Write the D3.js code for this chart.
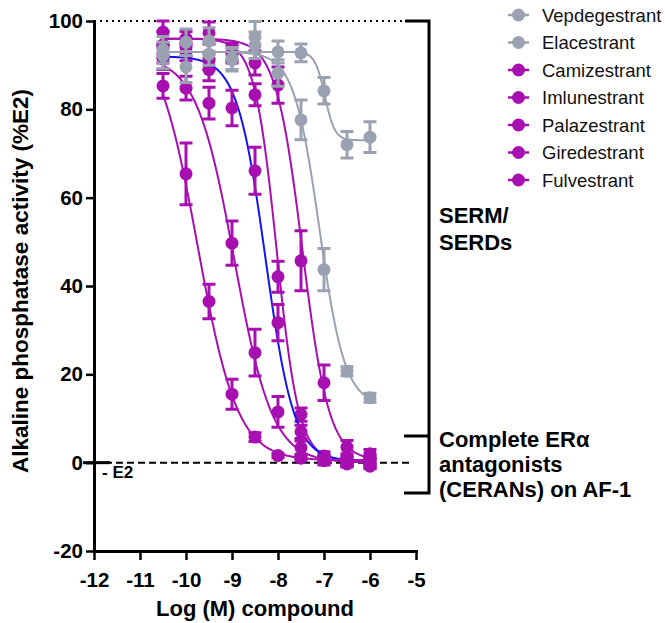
<!DOCTYPE html>
<html>
<head>
<meta charset="utf-8">
<script src="https://cdn.jsdelivr.net/npm/d3@7"></script>
<style>
  html, body { margin: 0; padding: 0; background: #fff; }
  svg { display: block; font-family: "Liberation Sans", Arial, sans-serif; }
</style>
</head>
<body>
<svg id="chart" width="665" height="623"></svg>
<script>
// ---------- DATA ----------
const logConc = [-10.5, -10, -9.5, -9, -8.5, -8, -7.5, -7, -6.5, -6];
const seriesNames = ["Vepdegestrant", "Elacestrant", "Camizestrant", "Imlunestrant", "Palazestrant", "Giredestrant", "Fulvestrant"];

const vepValues  = [93.5, 95.2, 95.5, 91.2, 96.4, 93.0, 92.8, 84.2, 72.0, 73.7];
const vepErr     = [3, 3, 3, 2.5, 3.5, 2.5, 2, 3, 3, 3.5];
const elaValues  = [92.2, 89.6, 92.5, 91.5, 94.5, 88.2, 77.6, 43.7, 20.7, 14.7];
const elaErr     = [3, 3.5, 2.5, 2.5, 3, 3, 4.5, 4.8, 1, 1];
const camValues  = [97.5, 96.1, 97.3, 93.0, 90.5, 85.5, 45.7, 18.1, 3.5, 2.0];
const camErr     = [2.5, 1.5, 2.5, 2, 2.7, 4.1, 6.8, 4, 1.5, 1];
const imlValues  = [94.6, 94.0, 89.0, 92.5, 83.3, 42.1, 10.9, 1.5, 0.5, 0.8];
const imlErr     = [3, 2, 2.5, 2, 2.5, 3.5, 1.5, 1, 1, 1];
const palValues  = [92.5, 93.0, 91.0, 80.3, 66.1, 31.7, 7.0, 0.8, 0.2, -0.3];
const palErr     = [2, 2, 2, 4, 5.3, 4.1, 1.5, 1, 1, 1];
const gireValues = [85.3, 65.4, 36.5, 15.5, 5.8, 1.6, 1.0, 0.5, -0.3, -0.8];
const gireErr    = [2.8, 7, 3.9, 3.4, 1, 0.5, 0.5, 0.5, 0.5, 0.5];
const fulValues  = [91.5, 84.8, 81.4, 49.7, 24.9, 11.5, 3.4, 0.5, 0.0, 0.3];
const fulErr     = [2.5, 2.7, 3.6, 5, 5.3, 3.5, 1.5, 1, 1, 1];

// 4-parameter logistic fit parameters
const fitTop    = [93, 93, 96, 96, 92, 98, 92];
const fitBottom = [73, 13, 0.5, 0.5, 0.3, 0.5, 0];
const fitLogIC50 = [-6.98, -7.1, -7.47, -8.03, -8.27, -9.75, -8.95];
const fitHill   = [4, 1.56, 1.5, 1.8, 1.4, 1.0, 1.05];

const xTicks = [-12, -11, -10, -9, -8, -7, -6, -5];
const yTicks = [-20, 0, 20, 40, 60, 80, 100];

const groupLabels = [["SERM/", "SERDs"], ["Complete ER\u03b1", "antagonists", "(CERANs) on AF-1"]];
const e2Label = "- E2";

// ---------- STYLE ----------
const GRAY = "#9aa2b1", PURPLE = "#a70fb0", BLUE = "#1414ee";
const markerColors = [GRAY, GRAY, PURPLE, PURPLE, PURPLE, PURPLE, PURPLE];
const lineColors   = [GRAY, GRAY, PURPLE, PURPLE, BLUE, PURPLE, PURPLE];
const valuesList = [vepValues, elaValues, camValues, imlValues, palValues, gireValues, fulValues];
const errList    = [vepErr, elaErr, camErr, imlErr, palErr, gireErr, fulErr];

const series = seriesNames.map((name, i) => ({
  name, values: valuesList[i], err: errList[i],
  top: fitTop[i], bottom: fitBottom[i], ic50: fitLogIC50[i], hill: fitHill[i],
  marker: markerColors[i], line: lineColors[i]
}));

const svg = d3.select("#chart");
const x = d3.scaleLinear().domain([-12, -5]).range([94, 416]);
const y = d3.scaleLinear().domain([-20, 100]).range([551, 21]);

// reference lines
svg.append("line").attr("x1", x(-12)).attr("x2", 407).attr("y1", y(100)).attr("y2", y(100))
  .attr("stroke", "#000").attr("stroke-width", 2).attr("stroke-dasharray", "2,4");
svg.append("line").attr("x1", x(-12)).attr("x2", 412).attr("y1", y(0)).attr("y2", y(0))
  .attr("stroke", "#000").attr("stroke-width", 2).attr("stroke-dasharray", "7,4");

// E2 marker
svg.append("line").attr("x1", 83).attr("x2", 110).attr("y1", y(0)).attr("y2", y(0))
  .attr("stroke", "#000").attr("stroke-width", 3);
svg.append("text").attr("x", 102).attr("y", y(0) + 15).attr("font-size", 17).attr("font-weight", "bold")
  .text(e2Label);

// axes
const yMinor = d3.range(-10, 100, 20);
const xMinor = d3.range(-11.5, -5, 1);
const gy = svg.append("g").attr("transform", `translate(${x(-12)},0)`);
gy.call(d3.axisLeft(y).tickValues(yMinor).tickSize(5).tickSizeOuter(0).tickFormat(""));
gy.call(d3.axisLeft(y).tickValues(yTicks).tickSize(8).tickSizeOuter(0).tickPadding(3).tickFormat(d3.format("d")));
const gx = svg.append("g").attr("transform", `translate(0,${y(-20)})`);
gx.call(d3.axisBottom(x).tickValues(xMinor).tickSize(5).tickSizeOuter(0).tickFormat(""));
gx.call(d3.axisBottom(x).tickValues(xTicks).tickSize(9).tickSizeOuter(0).tickPadding(12).tickFormat(d3.format("d")));
svg.selectAll(".domain").attr("stroke", "#000").attr("stroke-width", 3).attr("stroke-linecap", "square");
svg.selectAll(".tick line").attr("stroke", "#000").attr("stroke-width", 2.5);
svg.selectAll(".tick text").attr("font-size", 20.5).attr("font-weight", "bold").attr("fill", "#000")
  .attr("font-family", "'Liberation Sans', Arial, sans-serif").text(function(d){ return d3.select(this).text().replace("\u2212", "-"); });

// axis titles
svg.append("text").attr("x", 255).attr("y", 616).attr("text-anchor", "middle")
  .attr("font-size", 22).attr("font-weight", "bold").text("Log (M) compound");
svg.append("text").attr("transform", "translate(28,281) rotate(-90)").attr("text-anchor", "middle")
  .attr("font-size", 22.5).attr("font-weight", "bold").text("Alkaline phosphatase activity (%E2)");

// right bracket
const bx = 429;
svg.append("path").attr("d", `M405,${y(100)} H${bx} V493 H404 M404,436 H${bx}`)
  .attr("fill", "none").attr("stroke", "#000").attr("stroke-width", 3);
groupLabels[0].forEach((t, i) => svg.append("text").attr("x", 439).attr("y", 223 + i * 27)
  .attr("font-size", 22).attr("font-weight", "bold").text(t));
groupLabels[1].forEach((t, i) => svg.append("text").attr("x", 439).attr("y", 447 + i * 25)
  .attr("font-size", 22).attr("font-weight", "bold").text(t));

// curves, error bars, markers
const logistic = (s, lx) => s.bottom + (s.top - s.bottom) / (1 + Math.pow(10, (lx - s.ic50) * s.hill));
const curveX = d3.range(logConc[0], logConc[logConc.length - 1] + 0.0001, 0.02);
const line = d3.line().x(d => x(d[0])).y(d => y(d[1])).curve(d3.curveLinear);
const drawOrder = [3, 2, 4, 6, 5, 1, 0];
drawOrder.forEach(i => {
  const s = series[i];
  const g = svg.append("g");
  g.append("path").attr("d", line(curveX.map(lx => [lx, logistic(s, lx)])))
    .attr("fill", "none").attr("stroke", s.line).attr("stroke-width", 2);
  s.values.forEach((v, j) => {
    const cx = x(logConc[j]), e = s.err[j];
    g.append("path").attr("d", `M${cx},${y(v + e)}V${y(v - e)}M${cx - 6.5},${y(v + e)}H${cx + 6.5}M${cx - 6.5},${y(v - e)}H${cx + 6.5}`)
      .attr("stroke", s.marker).attr("stroke-width", 3).attr("fill", "none");
    g.append("circle").attr("cx", cx).attr("cy", y(v)).attr("r", 6.5).attr("fill", s.marker);
  });
});

// legend
const legRowY = d3.range(seriesNames.length).map(i => 15 + i * 27.5);
series.forEach((s, i) => {
  const ly = legRowY[i];
  svg.append("line").attr("x1", 508).attr("x2", 529).attr("y1", ly).attr("y2", ly)
    .attr("stroke", s.marker).attr("stroke-width", 2.5);
  svg.append("circle").attr("cx", 518.5).attr("cy", ly).attr("r", 6.5).attr("fill", s.marker);
  svg.append("text").attr("x", 542).attr("y", ly + 6.5).attr("font-size", 18.5).attr("fill", "#111").text(s.name);
});
</script>
</body>
</html>
